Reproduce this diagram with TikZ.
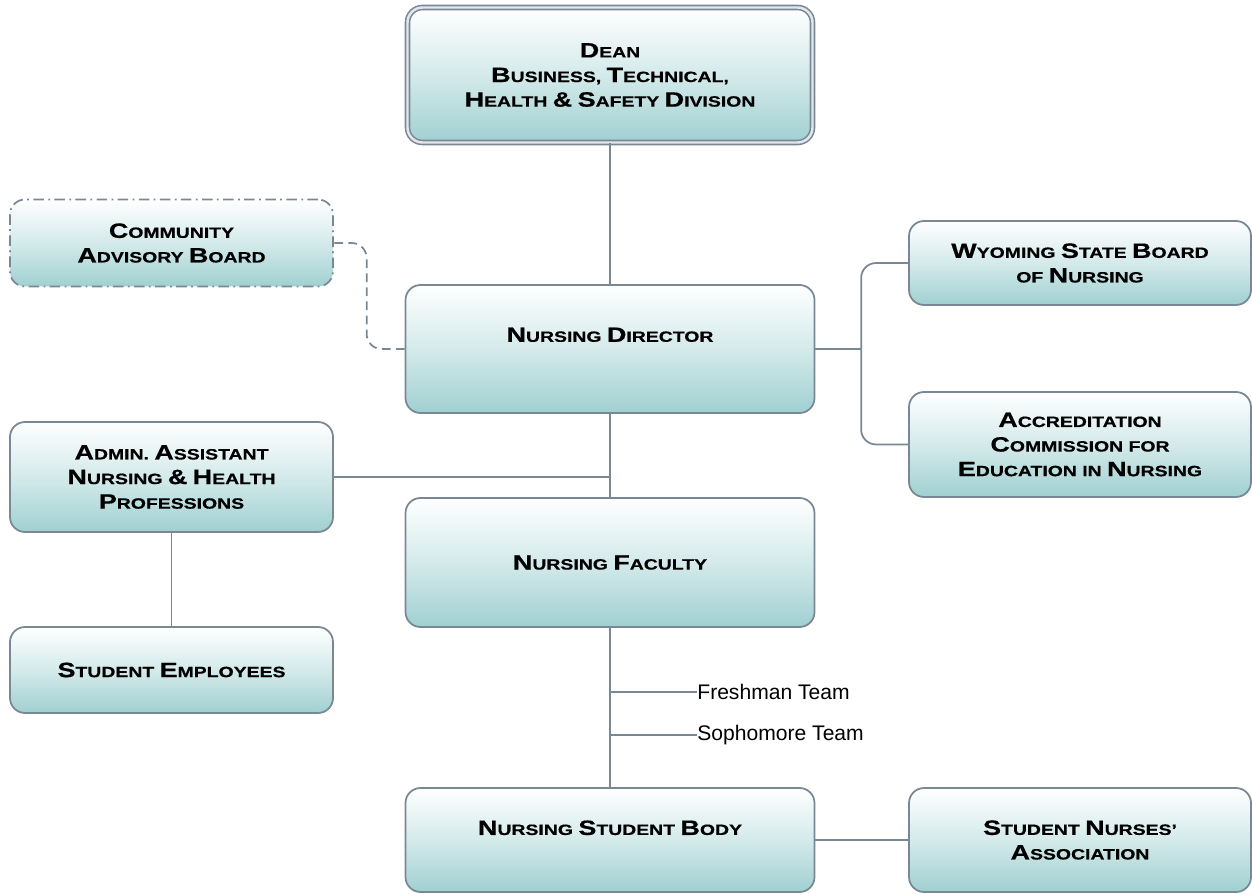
\documentclass[tikz,border=0pt]{standalone}
\usepackage{fontspec}
\setmainfont{Liberation Sans}
\newfontfamily\boxfont{Liberation Sans}[FakeStretch=1.3,BoldFeatures={FakeBold=0.6}]
\usepackage{tikz}
\usetikzlibrary{positioning}
\usetikzlibrary{calc}

\definecolor{linegray}{RGB}{122,136,150}
\definecolor{boxteal}{RGB}{160,208,209}
\newcommand\bigc[1]{{\fontsize{11.8}{13}\selectfont #1}}

\begin{document}
\begin{tikzpicture}[
      orgbox/.style={
         rectangle,
         rounded corners=0.3cm,
         draw=linegray,
         line width=1pt,
         top color=white,
         bottom color=boxteal,
         middle color=boxteal!45,
         align=center,
         inner sep=2pt,
         font=\boxfont\bfseries\fontsize{8.5}{14}\selectfont},
      conn/.style={draw=linegray, line width=1pt},
      teamlabel/.style={anchor=west, inner sep=0pt, font=\fontsize{12}{14}\selectfont}
      ]
      \useasboundingbox (0,0) rectangle (25.04,-17.88);

      \node[orgbox,double=linegray!20,double distance=1.4pt,line width=0.9pt,
            minimum width=8.1cm,minimum height=2.7cm] (dean) at (12.2,-1.5)
            {\bigc{D}EAN\\ \bigc{B}USINESS, \bigc{T}ECHNICAL,\\ \bigc{H}EALTH \bigc{\&} \bigc{S}AFETY \bigc{D}IVISION};
      \node[orgbox,minimum width=8.18cm,minimum height=2.56cm] (director) at (12.2,-6.98)
            {\bigc{N}URSING \bigc{D}IRECTOR\\[0.08cm]};
      \node[orgbox,minimum width=8.18cm,minimum height=2.58cm] (faculty) at (12.2,-11.25)
            {\bigc{N}URSING \bigc{F}ACULTY};
      \node[orgbox,minimum width=8.18cm,minimum height=2.08cm] (body) at (12.2,-16.8)
            {\bigc{N}URSING \bigc{S}TUDENT \bigc{B}ODY\\};
      \node[orgbox,minimum width=6.84cm,minimum height=2.08cm] (nurses) at (21.6,-16.8)
            {\bigc{S}TUDENT \bigc{N}URSES’\\ \bigc{A}SSOCIATION};
      \node[orgbox,minimum width=6.84cm,minimum height=1.68cm] (wyoming) at (21.6,-5.26)
            {\bigc{W}YOMING \bigc{S}TATE \bigc{B}OARD\\ OF \bigc{N}URSING};
      \node[orgbox,minimum width=6.84cm,minimum height=2.1cm] (accred) at (21.6,-8.89)
            {\bigc{A}CCREDITATION\\ \bigc{C}OMMISSION FOR\\ \bigc{E}DUCATION IN \bigc{N}URSING};
      \node[orgbox,dash pattern=on 6pt off 2.5pt on 1pt off 2.5pt,
            minimum width=6.46cm,minimum height=1.74cm] (community) at (3.43,-4.86)
            {\bigc{C}OMMUNITY\\ \bigc{A}DVISORY \bigc{B}OARD};
      \node[orgbox,minimum width=6.46cm,minimum height=2.2cm] (admin) at (3.43,-9.54)
            {\bigc{A}DMIN. \bigc{A}SSISTANT\\ \bigc{N}URSING \bigc{\&} \bigc{H}EALTH\\ \bigc{P}ROFESSIONS};
      \node[orgbox,minimum width=6.46cm,minimum height=1.72cm] (employees) at (3.43,-13.4)
            {\bigc{S}TUDENT \bigc{E}MPLOYEES};

      \node[teamlabel] (fresh) at (13.94,-13.84) {Freshman Team};
      \node[teamlabel] (soph) at (13.94,-14.7) {Sophomore Team};

      % main line down the middle
      \draw[conn] (dean.south) -- (director.north);
      \draw[conn] (director.south) -- (faculty.north);
      \draw[conn] (faculty.south) -- (body.north);
      \draw[conn] (admin.east) -- (admin.east -| faculty.north);
      \draw[conn] (admin.south) -- (employees.north);
      \draw[conn] (body.east) -- (nurses.west);

      % teams hang off the faculty line
      \foreach \t in {fresh,soph}
         \draw[conn] (\t.west -| faculty.south) -- (\t.west);

      % boards to the right, advisory board dashed
      \draw[conn] (director.east) -- ++(0.94,0);
      \draw[conn,rounded corners=0.3cm] (wyoming.west) -- ++(-0.94,0) |- (accred.west);
      \draw[conn,dashed,dash pattern=on 5pt off 3pt,rounded corners=0.3cm]
         (director.west) -- ++(-0.76,0) |- (community.east);
\end{tikzpicture}
\end{document}
